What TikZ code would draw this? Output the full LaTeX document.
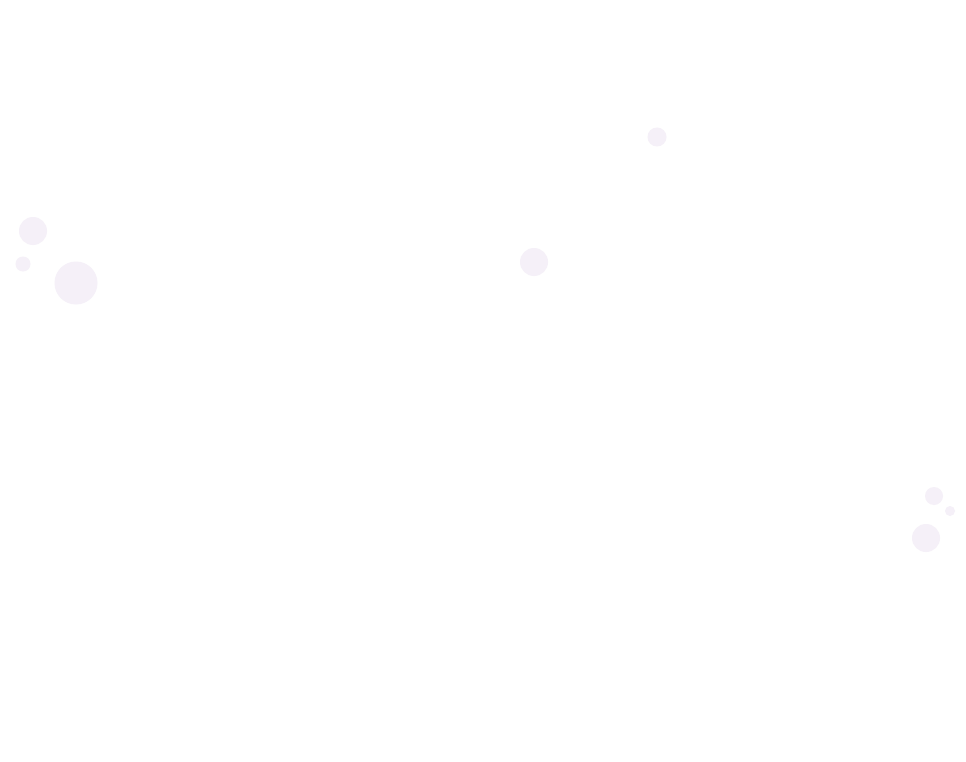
\documentclass[tikz,border=0pt]{standalone}
\definecolor{bubblecol}{HTML}{F5F0F8}
\begin{document}
\begin{tikzpicture}[x=1pt,y=-1pt]
\useasboundingbox[fill=white] (0,0) rectangle (966,762);
\foreach \k/\x/\y/\r in {0/33/231/14, 1/23/264/7.5, 2/76/283/21.5, 3/534/262/14, 4/657/137/9.5, 5/934/496/9, 6/950/511/5, 7/926/538/14}
    \fill[bubblecol] (\x, \y) circle (\r);
\end{tikzpicture}
\end{document}
